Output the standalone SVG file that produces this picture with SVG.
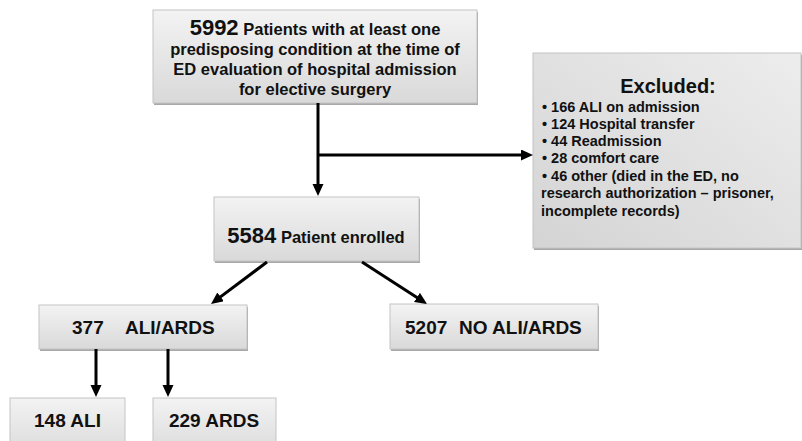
<svg xmlns="http://www.w3.org/2000/svg" width="802" height="441" viewBox="0 0 802 441">
<defs>
<linearGradient id="g" x1="0" y1="0" x2="0" y2="1">
<stop offset="0" stop-color="#f3f3f3"/>
<stop offset="1" stop-color="#d9d9d9"/>
</linearGradient>
<linearGradient id="g2" x1="1" y1="0" x2="0" y2="1">
<stop offset="0" stop-color="#ededed"/>
<stop offset="1" stop-color="#d4d4d4"/>
</linearGradient>
<marker id="ah" markerUnits="userSpaceOnUse" markerWidth="13" markerHeight="12" refX="6" refY="5.5" orient="auto">
<path d="M0,0 L12,5.5 L0,11 z" fill="#000"/>
</marker>
<style>
.box{fill:url(#g);stroke:#c4c4c4;stroke-width:1}
.sh{fill:#a8a8a8}
.t{font-family:"Liberation Sans",Arial,sans-serif;font-weight:bold;fill:#111}
.c{stroke:#000;stroke-width:3;fill:none;marker-end:url(#ah)}
</style>
</defs>
<rect width="802" height="441" fill="#fff"/>

<g id="n-screened">
<rect class="sh" x="154" y="12" width="324" height="93"/>
<rect class="box" x="153" y="10" width="324" height="93"/>
<text class="t" x="315" y="35" text-anchor="middle" font-size="16.5"><tspan font-size="22">5992</tspan> Patients with at least one</text>
<text class="t" x="315" y="55" text-anchor="middle" font-size="16.5">predisposing condition at the time of</text>
<text class="t" x="315" y="75" text-anchor="middle" font-size="16.5">ED evaluation of hospital admission</text>
<text class="t" x="315" y="95" text-anchor="middle" font-size="16.5">for elective surgery</text>
</g>

<g id="n-excluded">
<rect class="sh" x="534" y="55" width="268" height="195"/>
<rect class="box" x="533" y="53" width="268" height="195" style="fill:url(#g2)"/>
<text class="t" x="668" y="93" text-anchor="middle" font-size="20">Excluded:</text>
<g class="t" font-size="14.5">
<text x="542" y="112">• 166 ALI on admission</text>
<text x="542" y="129">• 124 Hospital transfer</text>
<text x="542" y="146">• 44 Readmission</text>
<text x="542" y="163">• 28 comfort care</text>
<text x="542" y="181">• 46 other (died in the ED, no</text>
<text x="541" y="198">research authorization – prisoner,</text>
<text x="541" y="216">incomplete records)</text>
</g>
</g>

<g id="n-enrolled">
<rect class="sh" x="215" y="199" width="205" height="64"/>
<rect class="box" x="214" y="197" width="205" height="64"/>
<text class="t" x="316" y="243" text-anchor="middle" font-size="16.5"><tspan font-size="22">5584</tspan> Patient enrolled</text>
</g>

<g id="n-aliards">
<rect class="sh" x="40" y="307" width="208" height="44"/>
<rect class="box" x="39" y="305" width="208" height="44"/>
<text class="t" x="72" y="334" font-size="19">377</text>
<text class="t" x="125" y="334" font-size="19">ALI/ARDS</text>
</g>

<g id="n-noaliards">
<rect class="sh" x="391" y="306" width="208" height="45"/>
<rect class="box" x="390" y="304" width="208" height="45"/>
<text class="t" x="405" y="334" font-size="19">5207</text>
<text class="t" x="459" y="334" font-size="19">NO ALI/ARDS</text>
</g>

<g id="n-ali">
<rect class="box" x="10" y="398" width="115" height="60"/>
<text class="t" x="67.5" y="427" text-anchor="middle" font-size="19">148 ALI</text>
</g>

<g id="n-ards">
<rect class="box" x="153" y="398" width="123" height="60"/>
<text class="t" x="214" y="427" text-anchor="middle" font-size="19">229 ARDS</text>
</g>

<g id="connectors">
<line class="c" x1="318" y1="103" x2="318" y2="190"/>
<path d="M318,155 L527,155" class="c"/>
<line class="c" x1="267" y1="262" x2="215.8" y2="300.4"/>
<line class="c" x1="362" y1="262" x2="422" y2="300.7"/>
<line class="c" x1="96" y1="349" x2="96" y2="391"/>
<line class="c" x1="168" y1="349" x2="168" y2="391"/>
</g>
</svg>
